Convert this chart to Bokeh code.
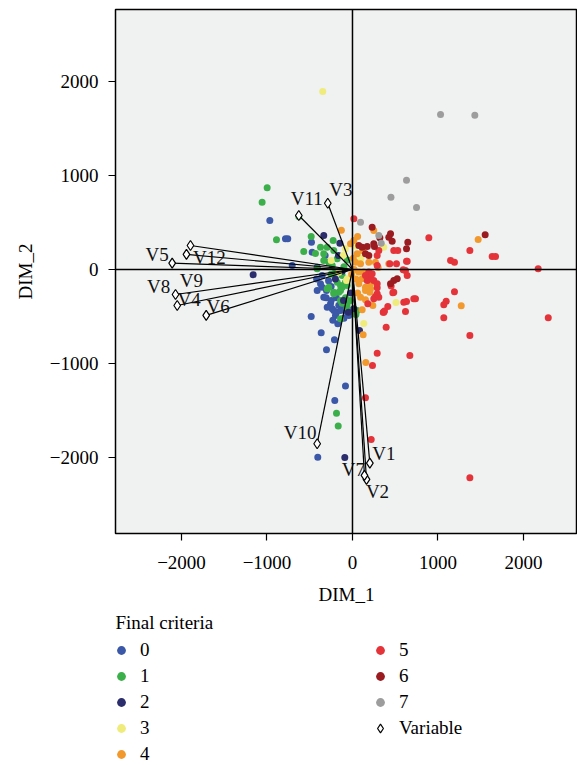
from bokeh.plotting import figure
from bokeh.layouts import column
from bokeh.models import Range1d, FixedTicker, Span, Legend, LegendItem, ColumnDataSource
from bokeh.embed import file_html
from bokeh.resources import INLINE
from bokeh.core.properties import value

FONT = "Liberation Serif"

# ---------------- data ----------------
class_labels = ["0", "1", "2", "3", "4", "5", "6", "7"]
class_colors = ["#3A58A7", "#3BB04A", "#2B2D6C", "#EFEC7B", "#F2992E", "#E5333A", "#9A1C20", "#9D9D9D"]

dim1_c0 = [-967, -784, -757, -480, -705, -472, -413, -355, -374, -413, -355, -336, -304, -308, -257, -249,
           -219, -237, -199, -187, -140, -121, -62, -51, -43, -296, -483, -366, -211, -304, -172, -82,
           -207, -406, -280, -250, -190, -160, -320, -100, -420, -230]
dim2_c0 = [521, 327, 327, 290, 43, 184, 25, -64, -152, -223, -188, -295, -223, -301, -365, -330,
           -436, -418, -489, -454, -436, -383, -454, -454, -489, -401, -500, -674, -748, -855, -578, -1241,
           -1394, -1997, -120, -180, -300, -380, 150, -520, -100, -540]

dim1_c1 = [-998, -1057, -889, -628, -570, -483, -433, -374, -336, -296, -226, -219, -179, -237, -277, -336,
           -413, -121, -179, -82, -62, -140, -277, -121, -219, -160, -140, -219, -296, -82, -140, -23,
           -121, -62, -62, 55, 40, -140, -187, -167, -100, -60, -250, -200]
dim2_c1 = [869, 716, 316, 564, 192, 351, 170, 237, 167, 237, 309, 202, 114, 43, 78, 96,
           7, -64, -135, -135, -170, -170, -188, -188, -241, -241, -223, -259, -205, -301, -330, -330,
           -358, -365, -401, -436, -480, -525, -1529, -1664, 30, 100, -50, -30]

dim1_c2 = [-1162, -336, -148, -164, 82, -90, 16, -105, -47, -20, -200, -120]
dim2_c2 = [-55, 362, 280, 149, -649, -2000, -418, -330, -454, -250, -100, -20]

dim1_c3 = [-348, -249, -109, -70, 132, -82, 16, -62, 509, 366, -160, 100, 30]
dim2_c3 = [1894, 96, 149, -117, -575, 220, -11, -99, -352, 237, -30, 120, 250]

dim1_c4 = [-130, -23, 16, 55, 35, 94, 191, 269, 425, 74, 132, 113, 172, 74, 211, 152,
           211, 152, 203, 94, 152, 238, 113, 125, 156, 1470, 1272, 249, 300, 60, 20, -10,
           40, 10, 120, 60]
dim2_c4 = [418, 273, 309, 167, 78, 60, 78, 78, 60, -28, -28, -99, -82, -152, -152, -188,
           -205, -223, -241, -295, -323, -383, -429, -695, -990, 319, -386, 415, 20, 350, 0, -50,
           -100, 120, 200, -250]

dim1_c5 = [16, 437, 515, 640, 620, 640, 308, 483, 530, 289, 191, 172, 211, 289, 308, 249,
           413, 366, 600, 737, 717, 620, 394, 893, 1373, 1147, 1193, 1634, 1673, 2172, 632, 593,
           1193, 1096, 1068, 632, 1068, 2290, 1373, 671, 472, 452, 269, 179, 359, 374,
           289, 234, 152, 219, 1373, 152, 230, 249, 289, 289, 289, 483]
dim2_c5 = [539, 60, 60, 88, -11, -64, 202, 202, 202, 43, -28, -117, -99, -195, -295, -312,
           -394, -454, -348, -312, -312, -447, -614, 337, 202, 96, 78, 138, 138, 7, 88, -3,
           -237, -337, -376, -340, -514, -514, -702, -915, -248, -177, -287, -365, -454, -443,
           -891, -1021, -1365, -1809, -2216, -64, -46, -117, -152, -259, 149, -241]

dim1_c6 = [647, 632, 1552, 230, 445, 425, 464, 74, 113, 172, 152, 191, 320, 249, 257, 483, 523, 445]
dim2_c6 = [291, 220, 369, 450, 380, 344, 301, 255, 237, 245, 167, 149, 337, 273, 245, -117, -99, -152]

dim1_c7 = [1030, 1431, 632, 450, 749, 94, 308, 336]
dim2_c7 = [1649, 1642, 950, 768, 660, 503, 362, 280]

class_dim1 = [dim1_c0, dim1_c1, dim1_c2, dim1_c3, dim1_c4, dim1_c5, dim1_c6, dim1_c7]
class_dim2 = [dim2_c0, dim2_c1, dim2_c2, dim2_c3, dim2_c4, dim2_c5, dim2_c6, dim2_c7]

var_names = ["V1", "V2", "V3", "V4", "V5", "V6", "V7", "V8", "V9", "V10", "V11", "V12"]
var_dim1 = [203, 164, -289, -2050, -2109, -1711, 140, -2070, -1942, -413, -628, -1895]
var_dim2 = [-2060, -2234, 705, -383, 67, -489, -2191, -266, 160, -1854, 574, 255]
# label placement (screen px offsets from the variable marker)
label_dx = [14, 11, 13, 12, -15, 12, -11, -17, 5, -17, 8, 19]
label_dy = [-10, 12, -14, -6, -9, -9, -6, -8, 26, -11, -17, 12]

x_ticks = [-2000, -1000, 0, 1000, 2000]
y_ticks = [-2000, -1000, 0, 1000, 2000]

X_RANGE = (-2772, 2632)
Y_RANGE = (-2809, 2766)

# ---------------- main figure ----------------
p = figure(width=577, height=609, output_backend="svg", toolbar_location=None,
           x_range=Range1d(*X_RANGE), y_range=Range1d(*Y_RANGE),
           min_border_left=115, min_border_right=0, min_border_top=9, min_border_bottom=76)

p.background_fill_color = "#F0F1F1"
p.border_fill_color = "white"
p.outline_line_color = "black"
p.outline_line_width = 1.5
p.xgrid.visible = False
p.ygrid.visible = False

def fmt(t):
    return str(t).replace("-", "\u2212")

for ax, ticks in ((p.xaxis[0], x_ticks), (p.yaxis[0], y_ticks)):
    ax.ticker = FixedTicker(ticks=ticks)
    ax.major_label_overrides = {t: fmt(t) for t in ticks}
    ax.minor_tick_line_color = None
    ax.major_tick_in = 0
    ax.major_tick_out = 7
    ax.major_tick_line_color = "black"
    ax.major_tick_line_width = 1.2
    ax.axis_line_color = None
    ax.major_label_text_font = FONT
    ax.major_label_text_font_size = "19px"
    ax.major_label_text_color = "black"
    ax.axis_label_text_font = FONT
    ax.axis_label_text_font_size = "19px"
    ax.axis_label_text_font_style = "normal"
    ax.axis_label_text_color = "black"

p.xaxis.axis_label = "DIM_1"
p.yaxis.axis_label = "DIM_2"
p.xaxis.major_label_standoff = 15
p.yaxis.major_label_standoff = 10
p.xaxis.axis_label_standoff = 12
p.yaxis.axis_label_standoff = 11

p.add_layout(Span(location=0, dimension="height", line_color="black", line_width=1.5))
p.add_layout(Span(location=0, dimension="width", line_color="black", line_width=1.5))

for lab, col, xs, ys in zip(class_labels, class_colors, class_dim1, class_dim2):
    p.scatter(xs, ys, size=7, fill_color=col, line_color=None)

zeros = [0] * len(var_names)
vsrc = ColumnDataSource(dict(x0=zeros, y0=zeros, x=var_dim1, y=var_dim2, name=var_names,
                             dx=label_dx, dy=label_dy))
p.segment(x0="x0", y0="y0", x1="x", y1="y", source=vsrc, line_color="black", line_width=1.2)
p.scatter(x="x", y="y", source=vsrc, marker="diamond", size=10,
          fill_color="white", line_color="black", line_width=1.2)
p.text(x="x", y="y", text="name", source=vsrc, x_offset="dx", y_offset="dy",
       text_font=value(FONT), text_font_size="19px", text_align="center",
       text_baseline="middle", text_color="#111111")

# ---------------- legend figure (frame aligned with the main frame) ----------------
# its view window lies far outside the data, so its renderers only feed the legend glyphs
lg = figure(width=577, height=156, output_backend="svg", toolbar_location=None,
            x_axis_type=None, y_axis_type=None,
            x_range=Range1d(1e6, 1e6 + 1), y_range=Range1d(1e6, 1e6 + 1),
            min_border_left=115, min_border_right=0, min_border_top=0, min_border_bottom=0,
            title="Final criteria")
lg.title.text_font = FONT
lg.title.text_font_size = "19px"
lg.title.text_font_style = "normal"
lg.title.text_color = "black"
lg.title.align = "left"
lg.title.standoff = 0
lg.outline_line_color = None
lg.background_fill_color = "white"
lg.border_fill_color = "white"
lg.xgrid.visible = False
lg.ygrid.visible = False

legend_renderers = []
for col, xs, ys in zip(class_colors, class_dim1, class_dim2):
    legend_renderers.append(lg.scatter(xs, ys, size=7, fill_color=col, line_color=None))
var_legend_r = lg.scatter(x="x", y="y", source=vsrc, marker="diamond", size=10,
                          fill_color="white", line_color="black", line_width=1.2)

common = dict(background_fill_alpha=0, border_line_color=None, padding=0, margin=0,
              glyph_width=22, glyph_height=22, label_height=22, spacing=4, label_standoff=8,
              label_text_font=FONT, label_text_font_size="19px", label_text_color="black")

items1 = [LegendItem(label=class_labels[i], renderers=[legend_renderers[i]]) for i in range(5)]
items2 = [LegendItem(label=class_labels[i], renderers=[legend_renderers[i]]) for i in range(5, 8)]
items2.append(LegendItem(label="Variable", renderers=[var_legend_r]))

leg1 = Legend(items=items1, location=(-5, 0), **common)
leg2 = Legend(items=items2, location=(254, 26), **common)
lg.add_layout(leg1)
lg.add_layout(leg2)

layout = column(p, lg, spacing=0)
open("out.html", "w").write(file_html(layout, INLINE))
